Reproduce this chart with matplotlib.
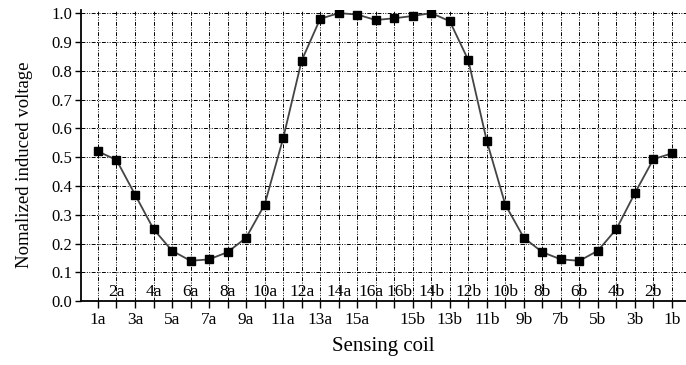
import numpy as np
import matplotlib.pyplot as plt

coils = ['1a', '2a', '3a', '4a', '5a', '6a', '7a', '8a', '9a', '10a', '11a', '12a',
         '13a', '14a', '15a', '16a', '16b', '15b', '14b', '13b', '12b', '11b', '10b',
         '9b', '8b', '7b', '6b', '5b', '4b', '3b', '2b', '1b']
voltage = [0.52, 0.49, 0.37, 0.25, 0.175, 0.14, 0.145, 0.17, 0.22, 0.335, 0.565, 0.835,
           0.98, 1.0, 0.995, 0.976, 0.982, 0.99, 1.0, 0.972, 0.837, 0.556, 0.335,
           0.22, 0.17, 0.145, 0.14, 0.175, 0.25, 0.375, 0.493, 0.513]
# labels shown under the axis (the rest go inside, just above it)
bottom_labels = ['1a', '3a', '5a', '7a', '9a', '11a', '13a', '15a',
                 '15b', '13b', '11b', '9b', '7b', '5b', '3b', '1b']

plt.rcParams['font.family'] = ['Liberation Serif', 'DejaVu Serif']

x = np.arange(len(coils))
fig = plt.figure(figsize=(6.86, 3.65), dpi=100)
ax = fig.add_axes([0.118, 0.175, 0.882, 0.797])

ax.plot(x, voltage, '-', color='#444444', lw=1.3, zorder=3)
ax.plot(x, voltage, 's', color='black', ms=6, zorder=4)

ax.set_xlim(-0.92, 31.76)
ax.set_ylim(0, 1.01)
ax.set_yticks(np.arange(0, 1.01, 0.1))
ax.set_yticklabels(['%.1f' % v for v in np.arange(0, 1.01, 0.1)], fontsize=12)
ax.set_xticks(x)
ax.set_xticklabels([c if c in bottom_labels else '' for c in coils], fontsize=12.5)
# small nudges so 16a / 16b don't sit on top of each other
nudge = {'16a': -0.25, '16b': 0.3}
for xi, c in zip(x, coils):
    if c not in bottom_labels:
        ax.text(xi + nudge.get(c, 0.0), 0.03, c, ha='center', va='center',
                fontsize=12.5, zorder=5)

ax.grid(True, color='black', lw=0.7, linestyle=(0, (4, 1.5, 1, 1.5, 1, 1.5)))
ax.set_axisbelow(True)
ax.spines['top'].set_visible(False)
ax.spines['right'].set_visible(False)
ax.spines['left'].set_linewidth(1.3)
ax.spines['bottom'].set_linewidth(1.3)
ax.tick_params(axis='x', length=5, width=1, pad=3)
ax.tick_params(axis='y', length=4, width=1, pad=2)

ax.set_xlabel('Sensing coil', fontsize=15, labelpad=6)
ax.set_ylabel('Nomalized induced voltage', fontsize=13.5)
ax.yaxis.set_label_coords(-0.08, 0.47)

fig.savefig('out.png', dpi=100)
